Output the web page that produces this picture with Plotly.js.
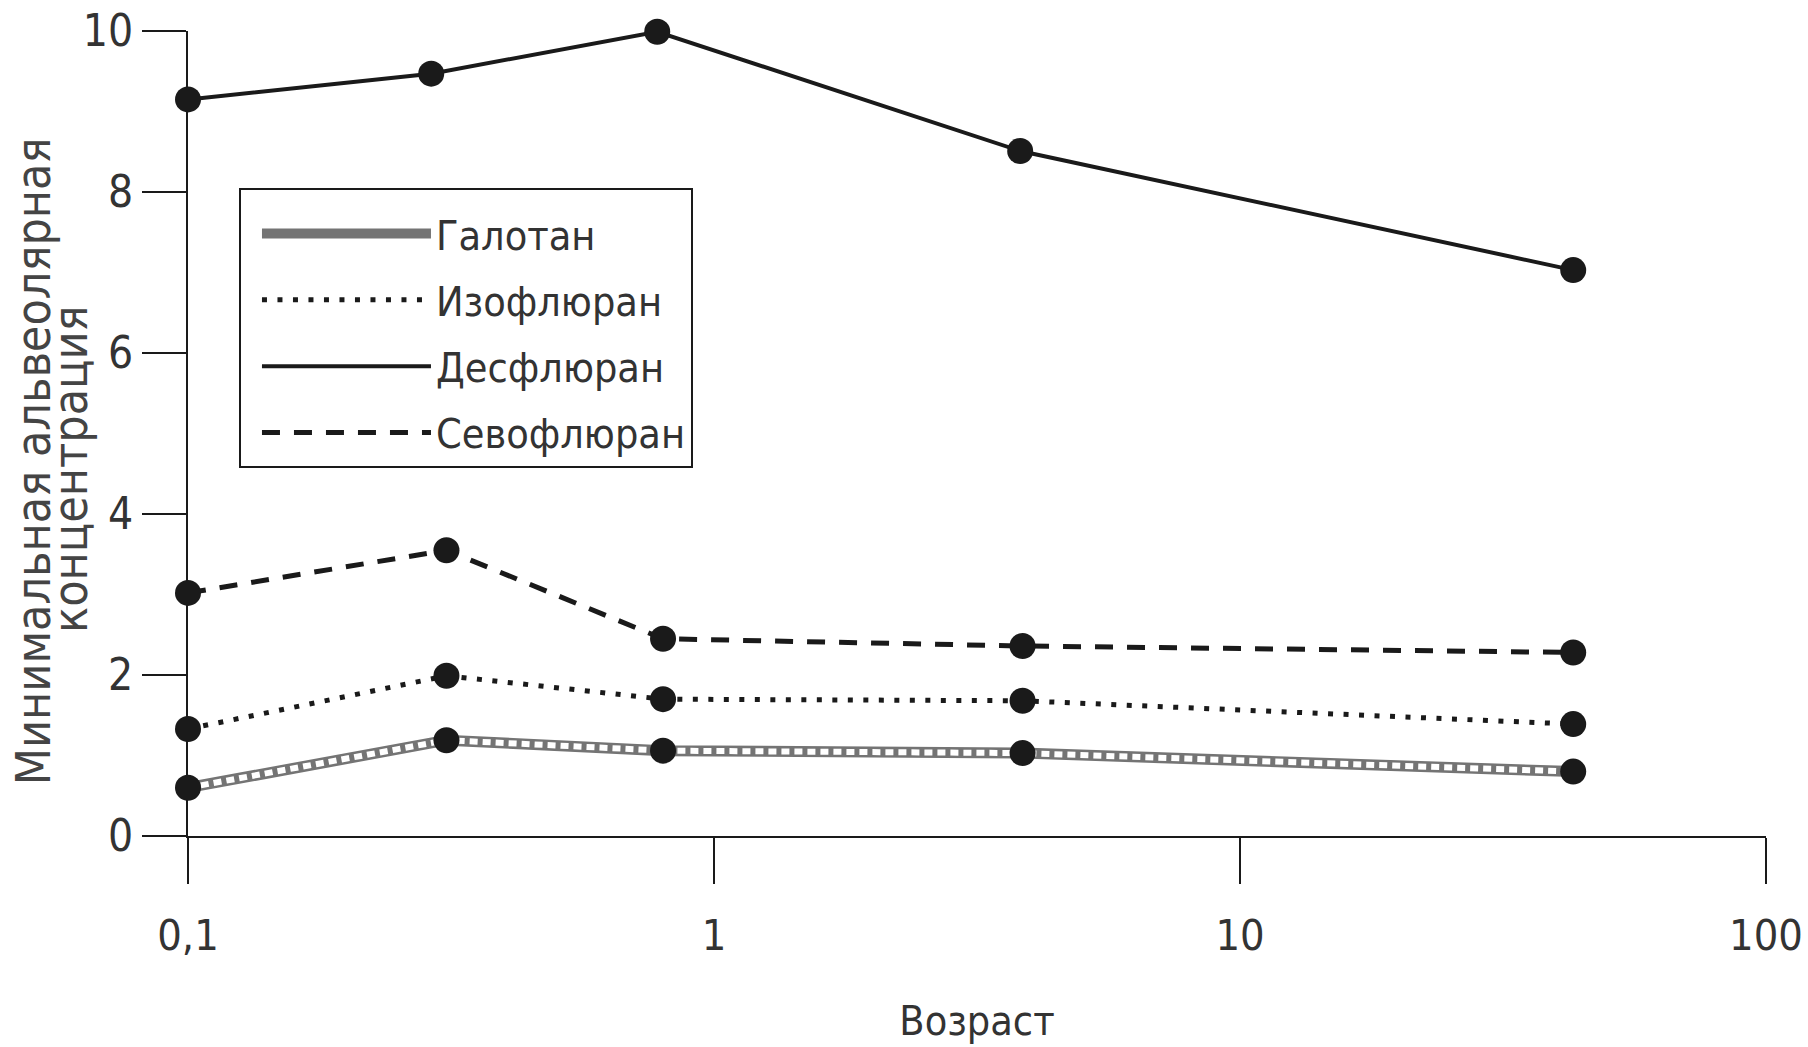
<!DOCTYPE html>
<html>
<head>
<meta charset="utf-8">
<script src="https://cdn.plot.ly/plotly-3.0.1.min.js"></script>
<style>
html,body{margin:0;padding:0;background:#fff;}
#chart{width:1808px;height:1047px;}
</style>
</head>
<body>
<div id="chart"></div>
<script>
// ---- data ----
const seriesNames = ['Галотан', 'Изофлюран', 'Десфлюран', 'Севофлюран'];
const ageDesflurane = [0.1, 0.29, 0.78, 3.82, 43];
const ageOthers = [0.1, 0.31, 0.8, 3.86, 43];
const halothane = [0.60, 1.19, 1.06, 1.03, 0.80];
const isoflurane = [1.33, 1.99, 1.70, 1.68, 1.39];
const desflurane = [9.15, 9.47, 9.99, 8.51, 7.03];
const sevoflurane = [3.02, 3.55, 2.45, 2.36, 2.28];
const xTickVals = [0.1, 1, 10, 100];
const xTickText = ['0,1', '1', '10', '100'];
const yTickVals = [0, 2, 4, 6, 8, 10];
const xTitle = 'Возраст';
const yTitleLine1 = 'Минимальная альвеолярная';
const yTitleLine2 = 'концентрация';

const FONT = '"Liberation Sans Narrow", "Arial Narrow", "DejaVu Sans Condensed", "Liberation Sans", sans-serif';
const INK = '#1a1a1a';

function lineTrace(x, y, name, line, showlegend, group) {
  return {x: x, y: y, name: name, type: 'scatter', mode: 'lines', line: line,
          showlegend: showlegend, legendgroup: group, hoverinfo: 'skip', cliponaxis: false};
}
function markerTrace(x, y, group) {
  return {x: x, y: y, type: 'scatter', mode: 'markers', showlegend: false, legendgroup: group,
          marker: {symbol: 'circle', size: 26, color: INK}, cliponaxis: false, hoverinfo: 'skip'};
}

const traces = [
  lineTrace(ageOthers, halothane, seriesNames[0], {color: '#747474', width: 11}, true, 'g1'),
  lineTrace(ageOthers, halothane, seriesNames[0], {color: '#ffffff', width: 6, dash: '8px,5px'}, false, 'g1'),
  lineTrace(ageOthers, isoflurane, seriesNames[1], {color: INK, width: 5, dash: '5px,10.5px'}, true, 'g2'),
  lineTrace(ageDesflurane, desflurane, seriesNames[2], {color: INK, width: 4}, true, 'g3'),
  lineTrace(ageOthers, sevoflurane, seriesNames[3], {color: INK, width: 5, dash: '18px,14px'}, true, 'g4'),
  markerTrace(ageOthers, halothane, 'g1'),
  markerTrace(ageOthers, isoflurane, 'g2'),
  markerTrace(ageDesflurane, desflurane, 'g3'),
  markerTrace(ageOthers, sevoflurane, 'g4')
];

const layout = {
  width: 1808, height: 1047,
  margin: {l: 188, r: 42, t: 31, b: 211},
  paper_bgcolor: '#fff', plot_bgcolor: '#fff',
  font: {family: FONT, color: '#333', size: 42},
  xaxis: {
    type: 'log', range: [-1, 2],
    tickmode: 'array', tickvals: xTickVals, ticktext: xTickText,
    ticks: 'outside', ticklen: 46, tickwidth: 2, tickcolor: INK,
    showline: true, linewidth: 2, linecolor: INK,
    showgrid: false, zeroline: false,
    tickfont: {family: FONT, size: 43, color: '#333'},
    ticklabelstandoff: 14,
    title: {text: xTitle, font: {family: FONT, size: 41, color: '#333'}, standoff: 48}
  },
  yaxis: {
    range: [0, 10],
    tickmode: 'array', tickvals: yTickVals,
    ticks: 'outside', ticklen: 44, tickwidth: 2, tickcolor: INK,
    showline: true, linewidth: 2, linecolor: INK,
    showgrid: false, zeroline: false,
    tickfont: {family: FONT, size: 44, color: '#333'},
    ticklabelstandoff: 0
  },
  legend: {
    x: 0.0323, y: 0.805, xanchor: 'left', yanchor: 'top',
    bgcolor: '#fff', bordercolor: INK, borderwidth: 2,
    font: {family: FONT, size: 41, color: '#333'},
    title: {text: '\u00A0', font: {size: 8}},
    indentation: 16,
    itemwidth: 169, tracegroupgap: 10, traceorder: 'grouped'
  },
  annotations: [
    {xref: 'paper', yref: 'paper', x: -0.098, y: 0.466, xanchor: 'center', yanchor: 'middle',
     text: yTitleLine1, textangle: -90, showarrow: false, font: {family: FONT, size: 48, color: '#444'}},
    {xref: 'paper', yref: 'paper', x: -0.0748, y: 0.456, xanchor: 'center', yanchor: 'middle',
     text: yTitleLine2, textangle: -90, showarrow: false, font: {family: FONT, size: 48, color: '#444'}}
  ],
  showlegend: true
};

Plotly.newPlot('chart', traces, layout, {displayModeBar: false, staticPlot: true});
</script>
</body>
</html>
